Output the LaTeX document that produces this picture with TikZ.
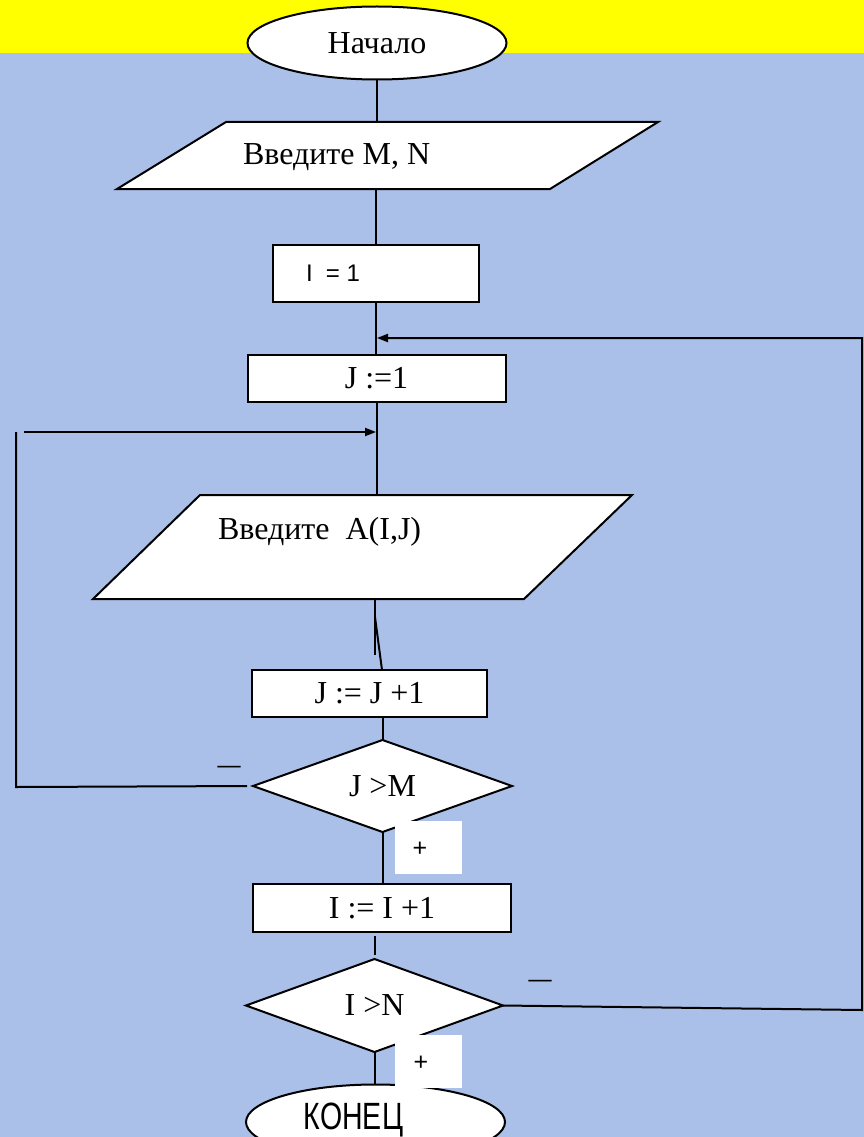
\documentclass[tikz,border=0pt]{standalone}
\usepackage{fontspec}
\setmainfont{Liberation Serif}
\newfontfamily\sansfnt{Liberation Sans}
\usetikzlibrary{shapes.geometric,arrows.meta}

\definecolor{slideblue}{RGB}{171,192,232}
\definecolor{slideyellow}{RGB}{255,255,0}

\begin{document}
\begin{tikzpicture}[x=1pt,y=-1pt,line width=2pt,
  every node/.style={inner sep=0pt,outer sep=0pt},
  txt/.style={font=\fontsize{32}{36}\selectfont},
  sanstxt/.style={font=\sansfnt\fontsize{24}{28}\selectfont},
  term/.style={draw,fill=white,ellipse,minimum width=259pt,minimum height=73pt,txt},
  io/.style={draw,fill=white,line join=miter},
  proc/.style={draw,fill=white,rectangle,txt},
  cond/.style={draw,fill=white,diamond,aspect=2.8,txt},
  signbox/.style={fill=white,minimum width=67pt,minimum height=53pt},
  signtxt/.style={font=\sansfnt\fontsize{25}{28}\selectfont},
  dashtxt/.style={font=\bfseries\fontsize{23}{26}\selectfont},
  arr/.style={-{Triangle[length=11pt,width=8pt]}}]

\useasboundingbox (0,0) rectangle (864,1137);
\clip (0,0) rectangle (864,1137);

% background
\fill[slideblue] (0,0) rectangle (864,1137);
\fill[slideyellow] (0,0) rectangle (864,53);

% input boxes
\draw[io] (226,122) -- (658,122) -- (550,189) -- (117,189) -- cycle;
\draw[io] (200,495) -- (632,495) -- (524,599) -- (93,599) -- cycle;
\coordinate (inp1n) at (377,122);
\coordinate (inp1s) at (376,189);
\coordinate (inp2n) at (376.5,495);
\coordinate (inp2s) at (375,599);

% nodes
\node[term] (start) at (377,43) {Начало};
\node[txt,anchor=base west] (inp1t) at (243,164) {Введите M, N};
\node[proc,minimum width=206pt,minimum height=57pt] (i1) at (376,273.5) {};
\node[sanstxt,anchor=base west] (i1t) at (306,281) {I\ \ = 1};
\node[proc,minimum width=258pt,minimum height=47pt] (j1) at (376.5,378.5) {J :=1};
\node[txt,anchor=base west] (inp2t) at (218,539) {Введите\ \ A(I,J)};
\node[proc,minimum width=235pt,minimum height=47pt] (jinc) at (369.5,693.5) {J := J +1};
\node[cond,minimum width=259pt,minimum height=92pt] (dj) at (382.5,786) {J >M};
\node[proc,minimum width=258pt,minimum height=48pt] (iinc) at (382,908) {I := I +1};
\node[cond,minimum width=257pt,minimum height=93pt] (di) at (374.5,1005.5) {I >N};
\node[term,minimum height=75pt] (stop) at (375.5,1122) {};
\node[font=\sansfnt\fontsize{38}{40}\selectfont,anchor=base] (stopt) at (353.5,1129)
  {\scalebox{0.75}[1]{КОНЕЦ}};

% labels
\node[signbox] (pj) at (428.5,847.5) {};
\node[signtxt] (pjt) at (420,849) {+};
\node[signbox] (pi) at (428.5,1061) {};
\node[signtxt] (pit) at (421,1063) {+};
\node[dashtxt] (mj) at (229,769) {—};
\node[dashtxt] (mi) at (540,983) {—};

% loop corners
\coordinate (iloop) at (377,338);
\coordinate (jloop) at (376,432);
\coordinate (lb) at (16,787);
\coordinate (lt) at (16,432);
\coordinate (lt2) at (24,432);
\coordinate (rb) at (862,1010);
\coordinate (rt) at (862,338);

% arrows
\draw (start.south) -- (inp1n);
\draw (inp1s) -- (inp1s |- i1.north);
\draw (i1.south) -- (i1.south |- j1.north);
\draw (j1.south) -- (inp2n);
\draw (inp2s) -- ++(0,56);
\draw (inp2s) ++(0,18) -- ([xshift=12.5pt]jinc.north);
\draw (dj.north |- jinc.south) -- (dj.north);
\draw (dj.south) -- (dj.south |- iinc.north);
\draw[shorten <=4pt,shorten >=4pt] (di.north |- iinc.south) -- (di.north);
\draw (di.south) -- (di.south |- stop.north);
\draw[shorten <=6pt] (dj.west) -- (lb) -- (lt);
\draw[arr] (lt2) -- (jloop);
\draw[arr] (di.east) -- (rb) -- (rt) -- (iloop);
\end{tikzpicture}
\end{document}
